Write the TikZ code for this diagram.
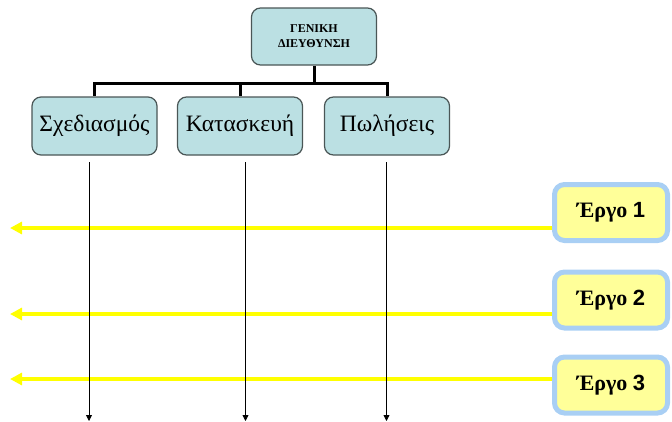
\documentclass[tikz,border=0pt]{standalone}
\usepackage{fontspec}
\setmainfont{Liberation Serif}
\setsansfont{Liberation Sans}
\usetikzlibrary{arrows.meta}
\definecolor{deptfill}{HTML}{BBE0E3}
\definecolor{deptline}{HTML}{4A5656}
\definecolor{projfill}{HTML}{FFFF99}
\definecolor{projline}{HTML}{A9CFF4}
\definecolor{flow}{HTML}{FFFF00}
\tikzset{
  headbox/.style={draw=deptline, line width=1.2pt, fill=deptfill, rounded corners=9pt,
    minimum width=125pt, minimum height=57pt, inner sep=0pt, align=center,
    font=\bfseries\fontsize{12}{15}\selectfont},
  deptbox/.style={draw=deptline, line width=1.2pt, fill=deptfill, rounded corners=9pt,
    minimum width=125pt, minimum height=58pt, inner sep=0pt,
    font=\fontsize{23.5}{26}\selectfont},
  projbox/.style={draw=projline, line width=5pt, fill=projfill, rounded corners=10pt,
    minimum width=113pt, minimum height=56pt, inner sep=0pt,
    font=\bfseries\fontsize{22}{24}\selectfont},
  orgline/.style={line width=3pt, black},
  flowarrow/.style={line width=4pt, flow, -{Triangle[length=12pt,width=12pt]}},
  taskline/.style={line width=0.8pt, black, -{Triangle[length=6pt,width=6pt]}}
}
\begin{document}
\begin{tikzpicture}[x=1pt,y=-1pt]
\useasboundingbox (0,0) rectangle (672,421);

% management and departments
\node[headbox] (top) at (314,36.5) {ΓΕΝΙΚΗ\\ΔΙΕΥΘΥΝΣΗ};
\node[deptbox] (d1) at (94.5,126) {Σχεδιασμός};
\node[deptbox] (d2) at (240,126) {Κατασκευή};
\node[deptbox] (d3) at (387,126) {Πωλήσεις};

\coordinate (bus) at (314,83);
\draw[orgline] (top.south) -- (bus);
\draw[orgline] (bus) -| (d1.north);
\draw[orgline] (bus) -| (d2.north);
\draw[orgline] (bus) -| (d3.north);

% projects
\node[projbox] (p1) at (611,212.5) {Έργο {\sffamily 1}};
\node[projbox] (p2) at (611,300) {Έργο {\sffamily 2}};
\node[projbox] (p3) at (611,385) {Έργο {\sffamily 3}};

\coordinate (q1) at (10,228);
\coordinate (q2) at (10,314);
\coordinate (q3) at (10,379);
\draw[flowarrow] (p1.west |- q1) -- (q1);
\draw[flowarrow] (p2.west |- q2) -- (q2);
\draw[flowarrow] (p3.west |- q3) -- (q3);

% department work lines
\coordinate (s1) at (89,162);   \coordinate (e1) at (89,421);
\coordinate (s2) at (245.5,162);\coordinate (e2) at (245.5,421);
\coordinate (s3) at (386.5,162);\coordinate (e3) at (386.5,421);
\draw[taskline] (s1) -- (e1);
\draw[taskline] (s2) -- (e2);
\draw[taskline] (s3) -- (e3);
\end{tikzpicture}
\end{document}
